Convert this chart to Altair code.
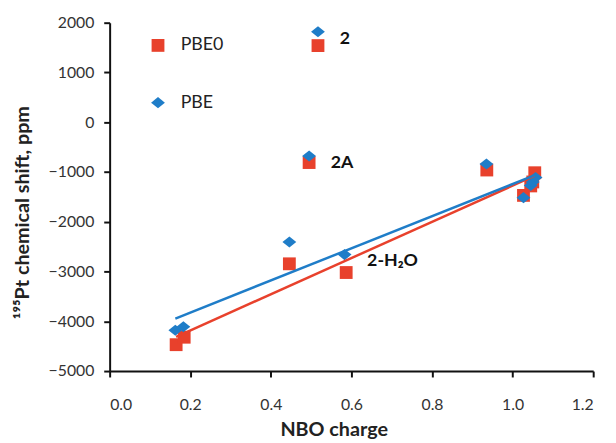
import altair as alt
import pandas as pd

# ---- data ----
methods = ["PBE0", "PBE"]
nbo_pbe0 = [0.165, 0.185, 0.446, 0.587, 0.936, 1.027, 1.045, 1.050, 1.055, 0.517, 0.495]
shift_pbe0 = [-4470, -4320, -2845, -3020, -960, -1470, -1280, -1200, -1015, 1540, -810]
nbo_pbe = [0.163, 0.183, 0.446, 0.583, 0.935, 1.027, 1.045, 1.050, 1.057, 0.517, 0.495]
shift_pbe = [-4180, -4110, -2405, -2660, -840, -1515, -1270, -1200, -1110, 1820, -680]
in_fit = [True, True, True, True, True, True, True, True, True, False, False]

label_text = ["2", "2A", "2-H\u2082O"]
label_x = [0.517, 0.495, 0.585]
label_y = [1680, -830, -2790]

x_ticks = [0.0, 0.2, 0.4, 0.6, 0.8, 1.0, 1.2]
y_ticks = [-5000, -4000, -3000, -2000, -1000, 0, 1000, 2000]

RED = "#E8412C"
BLUE = "#1F7DC8"
DIAMOND = "M-1,0L0,-0.8L1,0L0,0.8Z"
FONT = "Lato"

rows = []
for x, y, f in zip(nbo_pbe0, shift_pbe0, in_fit):
    rows.append({"nbo": x, "shift": y, "method": "PBE0", "fit": f})
for x, y, f in zip(nbo_pbe, shift_pbe, in_fit):
    rows.append({"nbo": x, "shift": y, "method": "PBE", "fit": f})
df = pd.DataFrame(rows)
labels = pd.DataFrame({"nbo": label_x, "shift": label_y, "text": label_text})

xscale = alt.Scale(domain=[0, 1.2], nice=False, zero=False)
yscale = alt.Scale(domain=[-5000, 2000], nice=False, zero=False)

xaxis = alt.Axis(
    values=x_ticks, format=".1f", title="NBO charge", grid=False,
    labelFontSize=16, labelFont=FONT, labelColor="#333", labelPadding=20,
    titleFontSize=20, titleFont=FONT, titleFontWeight="bold", titleColor="#222",
    titleX=227, titleY=65, titleBaseline="alphabetic", titleAlign="center",
    domainColor="#111", domainWidth=2, tickColor="#111", tickWidth=2, tickSize=6,
)
yaxis = alt.Axis(
    values=y_ticks, format="d", title="\u00b9\u2079\u2075Pt chemical shift, ppm", grid=False,
    labelFontSize=16, labelFont=FONT, labelColor="#333", labelPadding=10,
    titleFontSize=20, titleFont=FONT, titleFontWeight="bold", titleColor="#222",
    titleX=-82, titleY=192, titleAngle=270, titleBaseline="alphabetic", titleAlign="center",
    domainColor="#111", domainWidth=2, tickColor="#111", tickWidth=2, tickSize=6,
)

legend = alt.Legend(
    title=None, orient="none", legendX=40, legendY=14,
    labelFontSize=18, labelFont=FONT, labelColor="#222",
    symbolSize=169, rowPadding=40, labelOffset=14, symbolStrokeWidth=0,
)

base = alt.Chart(df)

points = base.transform_calculate(
    order="datum.method == 'PBE0' ? 0 : 1"
).mark_point(filled=True, opacity=1, strokeWidth=0).encode(
    x=alt.X("nbo:Q", scale=xscale, axis=xaxis),
    y=alt.Y("shift:Q", scale=yscale, axis=yaxis),
    color=alt.Color("method:N", scale=alt.Scale(domain=methods, range=[RED, BLUE]), legend=legend),
    shape=alt.Shape("method:N", scale=alt.Scale(domain=methods, range=["square", DIAMOND]), legend=legend),
    size=alt.Size("method:N", scale=alt.Scale(domain=methods, range=[169, 196]), legend=None),
    order=alt.Order("order:Q"),
)


def fit_line(method, color):
    return base.transform_filter(
        (alt.datum.method == method) & alt.datum.fit
    ).transform_regression("nbo", "shift").mark_line(
        color=color, strokeWidth=2.5
    ).encode(
        x=alt.X("nbo:Q", scale=xscale),
        y=alt.Y("shift:Q", scale=yscale),
    )


text = alt.Chart(labels).mark_text(
    align="left", baseline="middle", dx=22, fontSize=18, font=FONT,
    fontWeight="bold", color="#111",
).encode(
    x=alt.X("nbo:Q", scale=xscale),
    y=alt.Y("shift:Q", scale=yscale),
    text="text:N",
)

chart = alt.layer(
    points, fit_line("PBE0", RED), fit_line("PBE", BLUE), text
).properties(
    width=490, height=353,
    autosize=alt.AutoSizeParams(type="none"),
    padding={"left": 103, "top": 12, "right": 15, "bottom": 70},
    background="white",
).configure_view(stroke=None)

chart.save("out.html", embed_options={"renderer": "svg", "actions": False})
